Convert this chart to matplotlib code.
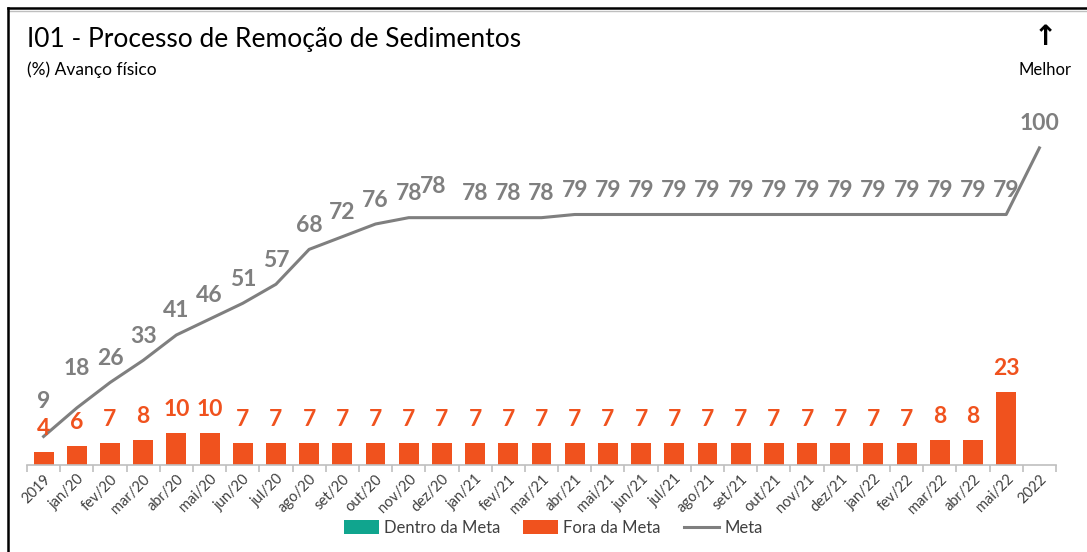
import numpy as np
import matplotlib.pyplot as plt
from matplotlib.lines import Line2D
from matplotlib.patches import Patch

plt.rcParams["font.family"] = ["Lato", "DejaVu Sans"]

# Dados do indicador
categorias = [
    "2019", "jan/20", "fev/20", "mar/20", "abr/20", "mai/20", "jun/20",
    "jul/20", "ago/20", "set/20", "out/20", "nov/20", "dez/20", "jan/21",
    "fev/21", "mar/21", "abr/21", "mai/21", "jun/21", "jul/21", "ago/21",
    "set/21", "out/21", "nov/21", "dez/21", "jan/22", "fev/22", "mar/22",
    "abr/22", "mai/22", "2022",
]
fora_meta = [
    4, 6, 7, 8, 10, 10, 7, 7, 7, 7, 7, 7, 7, 7, 7, 7, 7, 7, 7, 7, 7,
    7, 7, 7, 7, 7, 7, 8, 8, 23, np.nan,
]
meta = [
    9, 18, 26, 33, 41, 46, 51, 57, 68, 72, 76, 78, 78, 78, 78, 78,
    79, 79, 79, 79, 79, 79, 79, 79, 79, 79, 79, 79, 79, 79, 100,
]

COR_FORA = "#F0521E"
COR_DENTRO = "#10A58E"
COR_META = "#7F7F7F"
COR_TEXTO = "#404040"

# deslocamento (px) dos rótulos da meta, quando diferente do padrão
desloc_meta = {"2019": (0, 35), "jan/20": (0, 39), "dez/20": (-9, 31)}

fig = plt.figure(figsize=(10.87, 5.52), dpi=100)
ax = fig.add_axes([27 / 1087, 87 / 552, 1029 / 1087, 345 / 552])

x = np.arange(len(categorias))

ax.bar(x, fora_meta, width=0.6, color=COR_FORA, zorder=2)
ax.plot(x, meta, color=COR_META, linewidth=2.2, zorder=3)

for xi, v in zip(x, fora_meta):
    if np.isnan(v):
        continue
    ax.annotate(
        f"{v:.0f}", (xi, v), xytext=(0, 13), textcoords="offset pixels",
        ha="center", va="bottom", fontsize=16.5, fontweight="bold",
        color=COR_FORA,
    )

for xi, cat, v in zip(x, categorias, meta):
    dx, dy = desloc_meta.get(cat, (0, 24))
    ax.annotate(
        f"{v}", (xi, v), xytext=(dx, dy), textcoords="offset pixels",
        ha="center", va="center", fontsize=16.5, fontweight="bold",
        color=COR_META,
    )

ax.set_xlim(-0.5, len(categorias) - 0.5)
ax.set_ylim(0, 108.8)

for lado in ["top", "right", "left"]:
    ax.spines[lado].set_visible(False)
ax.spines["bottom"].set_color("#BFBFBF")
ax.spines["bottom"].set_linewidth(1.2)
ax.set_yticks([])

# marcas entre as categorias, rótulos centrados em cada barra
ax.set_xticks(np.arange(-0.5, len(categorias)), minor=False)
ax.set_xticklabels([])
ax.tick_params(axis="x", which="major", length=5, color="#BFBFBF", width=1.2)
ax.set_xticks(x, minor=True)
ax.set_xticklabels(categorias, minor=True, rotation=45, ha="right",
                   rotation_mode="anchor", fontsize=10.5, color=COR_TEXTO)
ax.tick_params(axis="x", which="minor", length=0, pad=5)

# legenda
itens = [
    Patch(facecolor=COR_DENTRO, label="Dentro da Meta"),
    Patch(facecolor=COR_FORA, label="Fora da Meta"),
    Line2D([0], [0], color=COR_META, linewidth=2.2, label="Meta"),
]
fig.legend(
    handles=itens, loc="center", bbox_to_anchor=(553 / 1087, 1 - 528 / 552),
    ncol=3, frameon=False, fontsize=12, handlelength=2.1,
    handleheight=0.9, columnspacing=1.4, handletextpad=0.3,
    labelcolor=COR_TEXTO,
)

# títulos
fig.text(27 / 1087, 1 - 40 / 552, "I01 - Processo de Remoção de Sedimentos",
         fontsize=19, color="black", va="center", ha="left")
fig.text(27 / 1087, 1 - 70 / 552, "(%) Avanço físico",
         fontsize=12.5, color="black", va="center", ha="left")
fig.text(1045 / 1087, 1 - 37 / 552, "↑", fontsize=20, fontweight="bold",
         color="black", va="center", ha="center", family="DejaVu Sans")
fig.text(1045 / 1087, 1 - 70 / 552, "Melhor", fontsize=12,
         color="black", va="center", ha="center")

# moldura
fig.add_artist(Line2D([8 / 1087, 1], [1 - 8 / 552, 1 - 8 / 552],
                      color="black", linewidth=1.8, transform=fig.transFigure))
fig.add_artist(Line2D([9 / 1087, 1], [1 - 11 / 552, 1 - 11 / 552],
                      color="#BFBFBF", linewidth=1.0, transform=fig.transFigure))
fig.add_artist(Line2D([8 / 1087, 8 / 1087], [0, 1 - 8 / 552],
                      color="black", linewidth=1.8, transform=fig.transFigure))

fig.savefig("out.png", dpi=100)
